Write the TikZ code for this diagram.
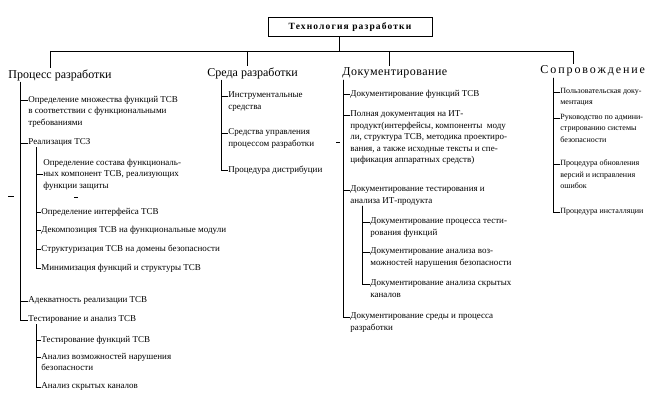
\documentclass[tikz,border=0pt]{standalone}
\usepackage{fontspec}
\setmainfont{Liberation Serif}
\newfontfamily\titlefont[LetterSpace=12]{Liberation Serif}
\newfontfamily\widehead[LetterSpace=4]{Liberation Serif}
\newfontfamily\widerhead[LetterSpace=16]{Liberation Serif}
\begin{document}
\begin{tikzpicture}[x=1pt,y=-1pt,line width=0.85pt,
  item/.style={font=\fontsize{9}{11.5}\selectfont,align=left,anchor=north west,inner sep=0pt,yshift=4.5pt},
  smallitem/.style={font=\fontsize{8}{11.5}\selectfont,align=left,anchor=north west,inner sep=0pt,yshift=4.3pt},
  head/.style={font=\fontsize{12}{14}\selectfont,anchor=west,inner sep=1pt},
  titlebox/.style={draw,minimum width=164pt,minimum height=19pt,inner sep=0pt,font=\titlefont\bfseries\fontsize{9.5}{11}\selectfont}]
\useasboundingbox (0,0) rectangle (670,401);
% title and bar
\node[titlebox] (T) at (350,27) {Технология разработки};
\coordinate (b1) at (50,51);
\coordinate (b4) at (573,51);
\draw ([xshift=-11pt]T.south) -- ([xshift=-11pt]T.south |- b1);
\draw (b1) -- (b4);
% headings
\node[head] (h1) at (7,75) {Процесс разработки};
\node[head] (h2) at (206,73) {Среда разработки};
\node[head,font=\widehead\fontsize{12}{14}\selectfont] (h3) at (341,73) {Документирование};
\node[head,font=\widerhead\fontsize{12}{14}\selectfont] (h4) at (539,71) {Сопровождение};
\draw (b1) -- (b1 |- h1.north);
\draw (247,51) -- (h2.north -| 247,0);
\draw (389,51) -- (h3.north -| 389,0);
\draw (b4) -- (b4 |- h4.north);
% column 1
\node[item] (a1) at (28,100) {Определение множества функций ТСВ\\в соответствии с функциональными\\требованиями};
\node[item] (a2) at (28,143) {Реализация ТСЗ};
\node[item] (a21) at (43,163) {Определение состава функциональ-\\ных компонент ТСВ, реализующих\\функции защиты};
\node[item] (a22) at (41,212) {Определение интерфейса ТСВ};
\node[item] (a23) at (41,230) {Декомпозиция ТСВ на функциональные модули};
\node[item] (a24) at (41,249) {Структуризация ТСВ на домены безопасности};
\node[item] (a25) at (41,268) {Минимизация функций и структуры ТСВ};
\node[item] (a3) at (28,301) {Адекватность реализации ТСВ};
\node[item] (a4) at (28,320) {Тестирование и анализ ТСВ};
\node[item] (a41) at (41,340) {Тестирование функций ТСВ};
\node[item] (a42) at (41,357) {Анализ возможностей нарушения\\безопасности};
\node[item] (a43) at (41,387) {Анализ скрытых каналов};
\foreach \n in {a1,a2,a3,a4}
  \draw ([xshift=13pt]h1.south west) |- ([yshift=-4.5pt]\n.north west);
\draw ([xshift=8pt]a2.south west) |- ([yshift=-16pt]a21.north west);
\foreach \n in {a22,a23,a24,a25}
  \draw ([xshift=8pt]a2.south west) |- ([yshift=-4.5pt]\n.north west);
\foreach \n in {a41,a42,a43}
  \draw ([xshift=8pt]a4.south west) |- ([yshift=-4.5pt]\n.north west);
% column 2
\node[item] (b1n) at (228,96) {Инструментальные\\средства};
\node[item] (b2n) at (228,133) {Средства управления\\процессом разработки};
\node[item] (b3n) at (228,170) {Процедура дистрибуции};
\foreach \n in {b1n,b2n,b3n}
  \draw ([xshift=15pt]h2.south west) |- ([yshift=-4.5pt]\n.north west);
% column 3
\node[item] (c1) at (350,94) {Документирование функций ТСВ};
\node[item] (c2) at (350,115) {Полная документация на ИТ-\\продукт(интерфейсы, компоненты\ \ моду\\ли, структура ТСВ, методика проектиро-\\вания, а также исходные тексты и спе-\\цификация аппаратных средств)};
\node[item] (c3) at (350,190) {Документирование тестирования и\\анализа ИТ-продукта};
\node[item] (c31) at (370,222) {Документирование процесса тести-\\рования функций};
\node[item] (c32) at (370,252) {Документирование анализа воз-\\можностей нарушения безопасности};
\node[item] (c33) at (370,284) {Документирование анализа скрытых\\каналов};
\node[item] (c4) at (350,317) {Документирование среды и процесса\\разработки};
\foreach \n in {c1,c2,c3,c4}
  \draw ([xshift=2pt]h3.south west) |- ([yshift=-4.5pt]\n.north west);
\foreach \n in {c31,c32,c33}
  \draw ([xshift=12pt]c3.south west) |- ([yshift=-4.5pt]\n.north west);
% column 4
\node[smallitem] (d1) at (560,92) {Пользовательская доку-\\ментация};
\node[smallitem] (d2) at (560,118) {Руководство по админи-\\стрированию системы\\безопасности};
\node[smallitem] (d3) at (560,164) {Процедура обновления\\версий и исправления\\ошибок};
\node[smallitem] (d4) at (560,212) {Процедура инсталляции};
\foreach \n in {d1,d2,d3,d4}
  \draw ([xshift=14pt]h4.south west) |- ([yshift=-4.3pt]\n.north west);
% stray marks
\draw[line width=0.6pt] (8,196) -- (14,196);
\draw[line width=0.6pt] (74,197) -- (78,197);
\draw[line width=0.6pt] (336,142) -- (340,142);
\end{tikzpicture}
\end{document}
